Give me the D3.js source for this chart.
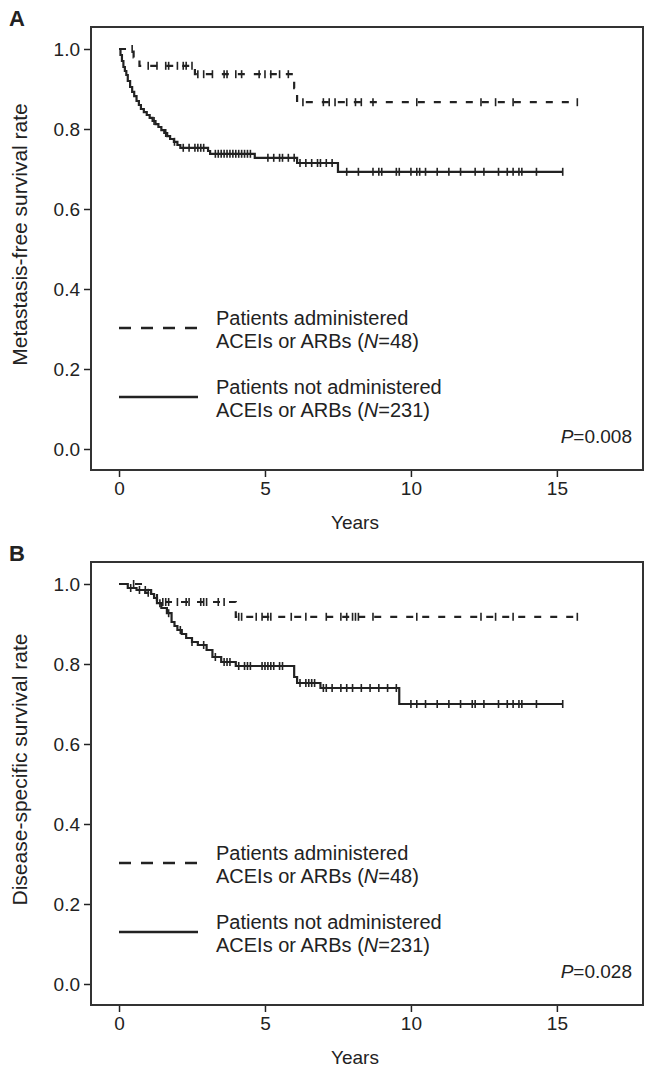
<!DOCTYPE html>
<html><head><meta charset="utf-8">
<script src="https://cdn.jsdelivr.net/npm/d3@7"></script>
<style>
html,body{margin:0;padding:0;background:#fff;}
svg text{font-family:"Liberation Sans",Arial,Helvetica,sans-serif;fill:#222;}
</style></head>
<body><svg id="c" width="645" height="1069"></svg>
<script>
// ---------- data ----------
const xTicks = [0, 5, 10, 15];
const yTicks = [0.0, 0.2, 0.4, 0.6, 0.8, 1.0];
const legendLabels = [["Patients administered", "ACEIs or ARBs (", "N", "=48)"],
                      ["Patients not administered", "ACEIs or ARBs (", "N", "=231)"]];

// Panel A — metastasis-free survival
const aDashedEvents = [[0.5,0.979],[0.7,0.958],[2.6,0.937],[6.0,0.902],[6.1,0.867]];
const aDashedCensor = [0.45,1.0,1.3,1.6,1.7,2.0,2.2,2.3,2.5,2.7,2.9,3.2,3.6,3.7,4.0,4.2,4.8,5.0,5.2,5.5,5.8,6.3,7.0,7.2,7.4,7.8,8.1,8.3,8.7,10.2,12.4,12.9,13.5,15.7];
const aDashedEnd = 15.7;
const aSolidEvents = [[0.05,0.985],[0.10,0.97],[0.15,0.955],[0.20,0.945],[0.25,0.935],[0.30,0.92],[0.38,0.905],[0.45,0.893],[0.52,0.882],[0.60,0.87],[0.68,0.86],[0.75,0.85],[0.85,0.842],[0.95,0.835],[1.05,0.828],[1.15,0.82],[1.25,0.812],[1.35,0.805],[1.45,0.797],[1.55,0.79],[1.65,0.782],[1.75,0.775],[1.88,0.768],[2.0,0.76],[2.1,0.753],[3.05,0.745],[3.12,0.738],[4.65,0.728],[6.1,0.715],[7.5,0.693]];
const aSolidCensor = [1.2,1.6,1.9,2.2,2.4,2.6,2.7,2.8,2.9,3.3,3.4,3.5,3.6,3.7,3.8,3.9,4.0,4.1,4.2,4.3,4.4,4.5,5.1,5.3,5.5,5.6,5.8,6.0,6.2,6.4,6.6,6.8,6.9,7.1,7.3,7.8,8.2,8.7,8.9,9.0,9.5,9.6,10.0,10.2,10.3,10.5,10.9,11.3,11.7,12.2,12.5,13.0,13.3,13.5,13.7,13.8,14.3,15.2];
const aSolidEnd = 15.2;

// Panel B — disease-specific survival
const bDashedEvents = [[0.9,0.978],[1.3,0.955],[4.0,0.918]];
const bDashedCensor = [0.5,1.0,1.5,1.6,1.7,2.0,2.3,2.4,2.8,2.9,3.0,3.4,3.6,4.1,4.2,4.7,4.9,5.1,5.2,5.9,6.4,7.1,7.6,7.8,8.0,8.1,8.2,8.7,10.2,12.4,12.9,13.5,15.7];
const bDashedEnd = 15.7;
const bSolidEvents = [[0.3,0.99],[0.6,0.985],[1.1,0.975],[1.2,0.965],[1.3,0.952],[1.45,0.94],[1.64,0.927],[1.8,0.905],[1.9,0.895],[2.0,0.885],[2.15,0.875],[2.3,0.865],[2.5,0.855],[2.7,0.8475],[3.0,0.835],[3.2,0.8175],[3.5,0.805],[4.0,0.795],[6.0,0.7675],[6.1,0.7525],[6.9,0.74],[9.6,0.70]];
const bSolidCensor = [0.4,0.7,0.9,1.4,1.7,2.1,2.5,2.9,3.3,3.6,3.7,3.8,4.1,4.3,4.4,4.5,4.9,5.0,5.1,5.2,5.3,5.5,5.6,6.2,6.4,6.5,6.6,6.7,7.0,7.1,7.3,7.6,7.8,8.0,8.3,8.6,8.9,9.2,9.5,10.0,10.2,10.5,10.9,11.3,11.7,12.1,12.2,12.5,13.0,13.3,13.5,13.7,13.8,14.3,15.2];
const bSolidEnd = 15.2;

const panels = [
  {label:"A", ytitle:"Metastasis-free survival rate", p:"0.008", top:27,
   dashed:{ev:aDashedEvents, cen:aDashedCensor, end:aDashedEnd},
   solid:{ev:aSolidEvents, cen:aSolidCensor, end:aSolidEnd}},
  {label:"B", ytitle:"Disease-specific survival rate", p:"0.028", top:562,
   dashed:{ev:bDashedEvents, cen:bDashedCensor, end:bDashedEnd},
   solid:{ev:bSolidEvents, cen:bSolidCensor, end:bSolidEnd}}
];

// ---------- drawing ----------
const svg = d3.select("#c");
const ink = "#222";
const boxL = 91, boxR = 643, boxH = 443;

function survAt(ev, t){ let s=1; for(const [et,es] of ev){ if(et<=t) s=es; } return s; }

panels.forEach(P=>{
  const g = svg.append("g").attr("transform",`translate(0,${P.top})`);
  const x = d3.scaleLinear().domain([-0.96, 17.95]).range([boxL, boxR]);
  const y = d3.scaleLinear().domain([-0.0525, 1.055]).range([boxH, 0]);

  // axes
  const xa = g.append("g").attr("transform",`translate(0,${boxH})`)
    .call(d3.axisBottom(x).tickValues(xTicks).tickSize(7).tickPadding(5).tickFormat(d3.format("d")));
  const ya = g.append("g").attr("transform",`translate(${boxL},0)`)
    .call(d3.axisLeft(y).tickValues(yTicks).tickSize(7).tickPadding(4).tickFormat(d3.format(".1f")));
  [xa,ya].forEach(a=>{
    a.select(".domain").remove();
    a.selectAll(".tick line").attr("stroke",ink).attr("stroke-width",1.5);
    a.selectAll(".tick text").attr("font-size",19).attr("fill",ink)
      .style("font-family","Liberation Sans, Arial, sans-serif");
  });
  // box
  g.append("rect").attr("x",boxL).attr("y",0).attr("width",boxR-boxL).attr("height",boxH)
    .attr("fill","none").attr("stroke","#333").attr("stroke-width",2);

  // titles
  g.append("text").attr("x",355).attr("y",boxH+59).attr("text-anchor","middle")
    .attr("font-size",19).text("Years");
  g.append("text").attr("transform",`translate(27,${boxH/2-14}) rotate(-90)`).attr("text-anchor","middle")
    .attr("font-size",21).text(P.ytitle);
  g.append("text").attr("x",9).attr("y",-1).attr("font-size",22).attr("font-weight","bold").text(P.label);

  // curves
  function draw(series, dash){
    const pts=[[0,1]]; let s=1;
    for(const [t,ns] of series.ev){ pts.push([t,s]); pts.push([t,ns]); s=ns; }
    pts.push([series.end,s]);
    g.append("path").attr("d", d3.line().x(d=>x(d[0])).y(d=>y(d[1]))(pts))
      .attr("fill","none").attr("stroke",ink).attr("stroke-width",2.2)
      .attr("stroke-dasharray",dash||null);
    g.selectAll(null).data(series.cen).enter().append("line")
      .attr("x1",d=>x(d)).attr("x2",d=>x(d))
      .attr("y1",d=>y(survAt(series.ev,d))-4).attr("y2",d=>y(survAt(series.ev,d))+4)
      .attr("stroke",ink).attr("stroke-width",1.6);
  }
  draw(P.dashed,"7,9");
  draw(P.solid,null);

  // legend
  [[0,"12,10"],[1,null]].forEach(([i,dash])=>{
    const yy = i===0 ? 301 : 370;
    g.append("line").attr("x1",119).attr("x2",198).attr("y1",yy).attr("y2",yy)
      .attr("stroke",ink).attr("stroke-width",2.6).attr("stroke-dasharray",dash);
    const L = legendLabels[i];
    g.append("text").attr("x",216).attr("y",yy-3).attr("font-size",20).text(L[0]);
    const t2 = g.append("text").attr("x",216).attr("y",yy+20).attr("font-size",20);
    t2.append("tspan").text(L[1]);
    t2.append("tspan").attr("font-style","italic").text(L[2]);
    t2.append("tspan").text(L[3]);
  });
  const pt = g.append("text").attr("x",632).attr("y",boxH-27).attr("text-anchor","end").attr("font-size",19);
  pt.append("tspan").attr("font-style","italic").text("P");
  pt.append("tspan").text("="+P.p);
});
</script></body></html>
